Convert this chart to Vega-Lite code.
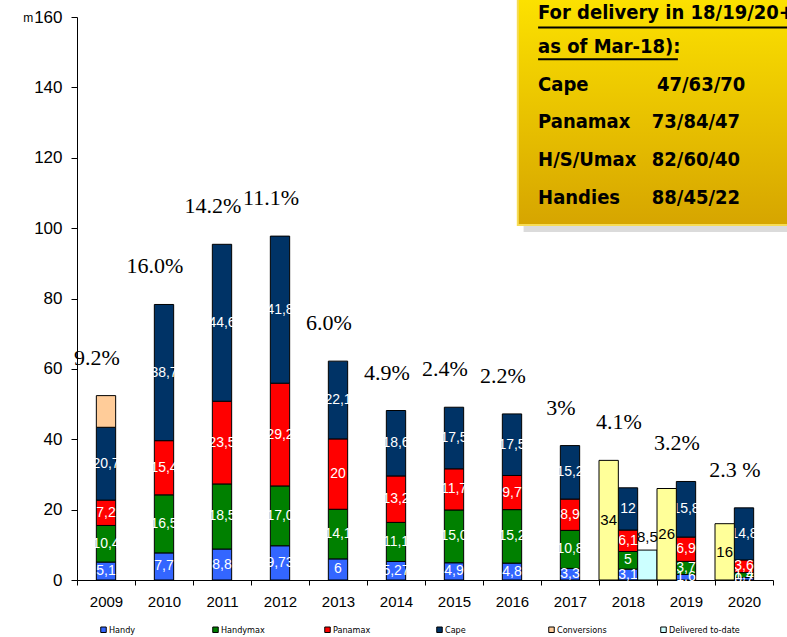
{
  "$schema": "https://vega.github.io/schema/vega-lite/v6.json",
  "width": 696,
  "height": 563,
  "autosize": {"type": "none"},
  "padding": {"left": 77, "top": 17, "right": 14, "bottom": 57},
  "config": {
    "font": "Liberation Sans",
    "view": {"stroke": null},
    "axis": {"grid": false, "domainColor": "black", "tickColor": "black", "labelColor": "black", "labelFont": "Liberation Sans", "domainWidth": 1, "tickWidth": 1},
    "axisX": {"labelFontSize": 15, "tickSize": 5, "labelPadding": 9, "tickBand": "extent", "labelAngle": 0},
    "axisY": {"labelFontSize": 17, "tickSize": 6, "labelPadding": 9, "titleAngle": 0, "titleAnchor": "end", "titleAlign": "right", "titleBaseline": "middle", "titleFontSize": 12, "titleFontWeight": "normal", "titlePadding": 1, "titleFont": "Liberation Sans"}
  },
  "layer": [
    {
      "layer": [
        {
          "data": {"values": [
            {"year": 2009, "group": "fleet", "type": "Handy", "value": 5.1, "label": "5,1"},
            {"year": 2009, "group": "fleet", "type": "Handymax", "value": 10.4, "label": "10,4"},
            {"year": 2009, "group": "fleet", "type": "Panamax", "value": 7.2, "label": "7,2"},
            {"year": 2009, "group": "fleet", "type": "Cape", "value": 20.7, "label": "20,7"},
            {"year": 2009, "group": "fleet", "type": "Conversions", "value": 9.0, "label": ""},
            {"year": 2010, "group": "fleet", "type": "Handy", "value": 7.7, "label": "7,7"},
            {"year": 2010, "group": "fleet", "type": "Handymax", "value": 16.5, "label": "16,5"},
            {"year": 2010, "group": "fleet", "type": "Panamax", "value": 15.4, "label": "15,4"},
            {"year": 2010, "group": "fleet", "type": "Cape", "value": 38.7, "label": "38,7"},
            {"year": 2011, "group": "fleet", "type": "Handy", "value": 8.8, "label": "8,8"},
            {"year": 2011, "group": "fleet", "type": "Handymax", "value": 18.5, "label": "18,5"},
            {"year": 2011, "group": "fleet", "type": "Panamax", "value": 23.5, "label": "23,5"},
            {"year": 2011, "group": "fleet", "type": "Cape", "value": 44.6, "label": "44,6"},
            {"year": 2012, "group": "fleet", "type": "Handy", "value": 9.73, "label": "9,73"},
            {"year": 2012, "group": "fleet", "type": "Handymax", "value": 17.0, "label": "17,0"},
            {"year": 2012, "group": "fleet", "type": "Panamax", "value": 29.2, "label": "29,2"},
            {"year": 2012, "group": "fleet", "type": "Cape", "value": 41.8, "label": "41,8"},
            {"year": 2013, "group": "fleet", "type": "Handy", "value": 6, "label": "6"},
            {"year": 2013, "group": "fleet", "type": "Handymax", "value": 14.1, "label": "14,1"},
            {"year": 2013, "group": "fleet", "type": "Panamax", "value": 20, "label": "20"},
            {"year": 2013, "group": "fleet", "type": "Cape", "value": 22.1, "label": "22,1"},
            {"year": 2014, "group": "fleet", "type": "Handy", "value": 5.27, "label": "5,27"},
            {"year": 2014, "group": "fleet", "type": "Handymax", "value": 11.1, "label": "11,1"},
            {"year": 2014, "group": "fleet", "type": "Panamax", "value": 13.2, "label": "13,2"},
            {"year": 2014, "group": "fleet", "type": "Cape", "value": 18.6, "label": "18,6"},
            {"year": 2015, "group": "fleet", "type": "Handy", "value": 4.9, "label": "4,9"},
            {"year": 2015, "group": "fleet", "type": "Handymax", "value": 15.0, "label": "15,0"},
            {"year": 2015, "group": "fleet", "type": "Panamax", "value": 11.7, "label": "11,7"},
            {"year": 2015, "group": "fleet", "type": "Cape", "value": 17.5, "label": "17,5"},
            {"year": 2016, "group": "fleet", "type": "Handy", "value": 4.8, "label": "4,8"},
            {"year": 2016, "group": "fleet", "type": "Handymax", "value": 15.2, "label": "15,2"},
            {"year": 2016, "group": "fleet", "type": "Panamax", "value": 9.7, "label": "9,7"},
            {"year": 2016, "group": "fleet", "type": "Cape", "value": 17.5, "label": "17,5"},
            {"year": 2017, "group": "fleet", "type": "Handy", "value": 3.3, "label": "3,3"},
            {"year": 2017, "group": "fleet", "type": "Handymax", "value": 10.8, "label": "10,8"},
            {"year": 2017, "group": "fleet", "type": "Panamax", "value": 8.9, "label": "8,9"},
            {"year": 2017, "group": "fleet", "type": "Cape", "value": 15.2, "label": "15,2"},
            {"year": 2018, "group": "orderbook", "type": "Orderbook", "value": 34, "label": "34"},
            {"year": 2018, "group": "fleet", "type": "Handy", "value": 3.1, "label": "3,1"},
            {"year": 2018, "group": "fleet", "type": "Handymax", "value": 5, "label": "5"},
            {"year": 2018, "group": "fleet", "type": "Panamax", "value": 6.1, "label": "6,1"},
            {"year": 2018, "group": "fleet", "type": "Cape", "value": 12, "label": "12"},
            {"year": 2018, "group": "delivered", "type": "Delivered to-date", "value": 8.5, "label": "8,5"},
            {"year": 2019, "group": "orderbook", "type": "Orderbook", "value": 26, "label": "26"},
            {"year": 2019, "group": "fleet", "type": "Handy", "value": 1.6, "label": "1,6"},
            {"year": 2019, "group": "fleet", "type": "Handymax", "value": 3.7, "label": "3,7"},
            {"year": 2019, "group": "fleet", "type": "Panamax", "value": 6.9, "label": "6,9"},
            {"year": 2019, "group": "fleet", "type": "Cape", "value": 15.8, "label": "15,8"},
            {"year": 2020, "group": "orderbook", "type": "Orderbook", "value": 16, "label": "16"},
            {"year": 2020, "group": "fleet", "type": "Handy", "value": 0.7, "label": "0,7"},
            {"year": 2020, "group": "fleet", "type": "Handymax", "value": 1.4, "label": "1,4"},
            {"year": 2020, "group": "fleet", "type": "Panamax", "value": 3.6, "label": "3,6"},
            {"year": 2020, "group": "fleet", "type": "Cape", "value": 14.8, "label": "14,8"}
          ]},
          "transform": [
            {"calculate": "indexof(['Handy','Handymax','Panamax','Cape','Conversions','Orderbook','Delivered to-date'], datum.type)", "as": "ord"},
            {"stack": "value", "groupby": ["year", "group"], "sort": [{"field": "ord", "order": "ascending"}], "as": ["v0", "v1"]},
            {"calculate": "(datum.v0 + datum.v1) / 2", "as": "mid"}
          ],
          "encoding": {
            "x": {"field": "year", "type": "ordinal", "title": null, "scale": {"paddingInner": 0, "paddingOuter": 0}},
            "xOffset": {"field": "group", "type": "nominal", "scale": {"domain": ["orderbook", "fleet", "delivered"], "paddingInner": 0, "paddingOuter": 0}}
          },
          "layer": [
            {
              "transform": [{"filter": "datum.group === 'fleet'"}],
              "mark": {"type": "bar", "stroke": "black", "strokeWidth": 1},
              "encoding": {
                "y": {"field": "v0", "type": "quantitative", "title": "m", "scale": {"domain": [0, 160], "nice": false}, "axis": {"values": [0, 20, 40, 60, 80, 100, 120, 140, 160]}},
                "y2": {"field": "v1"},
                "color": {
                  "field": "type", "type": "nominal",
                  "scale": {
                    "domain": ["Handy", "Handymax", "Panamax", "Cape", "Conversions", "Delivered to-date", "Orderbook"],
                    "range": ["#3366FF", "#008000", "#FF0000", "#003366", "#FFCC99", "#CCFFFF", "#FFFF99"]
                  },
                  "legend": {
                    "values": ["Handy", "Handymax", "Panamax", "Cape", "Conversions", "Delivered to-date"],
                    "title": " ", "titleOrient": "left", "titlePadding": 22, "titleFontSize": 2,
                    "orient": "bottom", "direction": "horizontal", "columns": 6, "gridAlign": "all",
                    "columnPadding": 30, "symbolType": "square", "symbolSize": 30, "symbolStrokeColor": "#222222",
                    "symbolStrokeWidth": 1, "labelFontSize": 9, "labelFont": "Liberation Sans Narrow, DejaVu Sans Condensed, Liberation Sans, sans-serif", "labelOffset": 1, "offset": 16
                  }
                }
              }
            },
            {
              "transform": [{"filter": "datum.group === 'fleet'"}],
              "mark": {"type": "text", "color": "white", "fontSize": 14, "font": "Liberation Sans", "baseline": "middle"},
              "encoding": {
                "y": {"field": "mid", "type": "quantitative", "title": "m"},
                "text": {"field": "label"}
              }
            },
            {
              "transform": [{"filter": "datum.group !== 'fleet'"}],
              "mark": {"type": "bar", "stroke": "black", "strokeWidth": 1},
              "encoding": {
                "y": {"field": "v0", "type": "quantitative", "title": "m"},
                "y2": {"field": "v1"},
                "color": {"field": "type", "type": "nominal"}
              }
            },
            {
              "transform": [{"filter": "datum.type === 'Orderbook'"}],
              "mark": {"type": "text", "color": "black", "fontSize": 15, "font": "Liberation Sans", "baseline": "middle"},
              "encoding": {
                "y": {"field": "mid", "type": "quantitative", "title": "m"},
                "text": {"field": "label"}
              }
            },
            {
              "transform": [{"filter": "datum.type === 'Delivered to-date'"}],
              "mark": {"type": "text", "color": "black", "fontSize": 15, "font": "Liberation Sans", "baseline": "bottom", "dy": -5},
              "encoding": {
                "y": {"field": "v1", "type": "quantitative", "title": "m"},
                "text": {"field": "label"}
              }
            }
          ]
        },
        {
          "data": {"values": [
            {"year": 2009, "pct": "9.2%", "top": 52.4},
            {"year": 2010, "pct": "16.0%", "top": 78.3},
            {"year": 2011, "pct": "14.2%", "top": 95.4},
            {"year": 2012, "pct": "11.1%", "top": 97.73},
            {"year": 2013, "pct": "6.0%", "top": 62.2},
            {"year": 2014, "pct": "4.9%", "top": 48.17},
            {"year": 2015, "pct": "2.4%", "top": 49.1},
            {"year": 2016, "pct": "2.2%", "top": 47.2},
            {"year": 2017, "pct": "3%", "top": 38.2},
            {"year": 2018, "pct": "4.1%", "top": 34},
            {"year": 2019, "pct": "3.2%", "top": 28.0},
            {"year": 2020, "pct": "2.3 %", "top": 20.5}
          ]},
          "mark": {"type": "text", "font": "Liberation Serif", "fontSize": 22, "color": "black", "baseline": "middle", "dy": -38, "dx": -9},
          "encoding": {
            "x": {"field": "year", "type": "ordinal", "title": null, "scale": {"paddingInner": 0, "paddingOuter": 0}},
            "y": {"field": "top", "type": "quantitative", "title": "m"},
            "text": {"field": "pct"}
          }
        }
      ]
    },
    {
      "data": {"values": [{}]},
      "encoding": {
        "x": {"datum": 2016.45, "type": "quantitative", "scale": {"domain": [2008.5, 2020.5], "nice": false, "zero": false}, "axis": null},
        "y": {"datum": 100, "type": "quantitative", "scale": {"domain": [0, 160], "nice": false, "zero": true}, "axis": null}
      },
      "layer": [
        {
          "mark": {"type": "rect", "color": "#888888", "opacity": 0.3},
          "encoding": {"x": {"datum": 2016.2}, "x2": {"datum": 2021.5}, "y": {"datum": 98.9}, "y2": {"datum": 170}}
        },
        {
          "mark": {"type": "rect", "stroke": "#F7DC55", "strokeWidth": 2, "fill": {"gradient": "linear", "x1": 0, "y1": 0, "x2": 0, "y2": 1, "stops": [{"offset": 0, "color": "#FFE600"}, {"offset": 1, "color": "#D6A500"}]}},
          "encoding": {"x": {"datum": 2016.1}, "x2": {"datum": 2021.5}, "y": {"datum": 100.9}, "y2": {"datum": 170}}
        },
        {
          "mark": {"type": "rule", "color": "black", "strokeWidth": 2},
          "encoding": {"x": {"datum": 2016.45}, "x2": {"datum": 2021.5}, "y": {"datum": 157.0}}
        },
        {
          "mark": {"type": "rule", "color": "black", "strokeWidth": 2},
          "encoding": {"x": {"datum": 2016.45}, "x2": {"datum": 2018.86}, "y": {"datum": 148.0}}
        },
        {
          "mark": {"type": "text", "text": "For delivery in 18/19/20+", "font": "Liberation Sans Narrow, DejaVu Sans Condensed, Liberation Sans, sans-serif", "fontWeight": "bold", "fontSize": 20, "align": "left", "baseline": "middle", "color": "black"},
          "encoding": {"x": {"datum": 2016.45}, "y": {"datum": 161.1}}
        },
        {
          "mark": {"type": "text", "text": "as of Mar-18):", "font": "Liberation Sans Narrow, DejaVu Sans Condensed, Liberation Sans, sans-serif", "fontWeight": "bold", "fontSize": 20, "align": "left", "baseline": "middle", "color": "black"},
          "encoding": {"x": {"datum": 2016.45}, "y": {"datum": 151.5}}
        },
        {
          "mark": {"type": "text", "text": "Cape", "font": "Liberation Sans Narrow, DejaVu Sans Condensed, Liberation Sans, sans-serif", "fontWeight": "bold", "fontSize": 20, "align": "left", "baseline": "middle", "color": "black"},
          "encoding": {"x": {"datum": 2016.45}, "y": {"datum": 140.7}}
        },
        {
          "mark": {"type": "text", "text": "47/63/70", "font": "Liberation Sans Narrow, DejaVu Sans Condensed, Liberation Sans, sans-serif", "fontWeight": "bold", "fontSize": 20, "align": "left", "baseline": "middle", "color": "black"},
          "encoding": {"x": {"datum": 2018.5}, "y": {"datum": 140.7}}
        },
        {
          "mark": {"type": "text", "text": "Panamax", "font": "Liberation Sans Narrow, DejaVu Sans Condensed, Liberation Sans, sans-serif", "fontWeight": "bold", "fontSize": 20, "align": "left", "baseline": "middle", "color": "black"},
          "encoding": {"x": {"datum": 2016.45}, "y": {"datum": 130.2}}
        },
        {
          "mark": {"type": "text", "text": "73/84/47", "font": "Liberation Sans Narrow, DejaVu Sans Condensed, Liberation Sans, sans-serif", "fontWeight": "bold", "fontSize": 20, "align": "left", "baseline": "middle", "color": "black"},
          "encoding": {"x": {"datum": 2018.41}, "y": {"datum": 130.2}}
        },
        {
          "mark": {"type": "text", "text": "H/S/Umax", "font": "Liberation Sans Narrow, DejaVu Sans Condensed, Liberation Sans, sans-serif", "fontWeight": "bold", "fontSize": 20, "align": "left", "baseline": "middle", "color": "black"},
          "encoding": {"x": {"datum": 2016.45}, "y": {"datum": 119.4}}
        },
        {
          "mark": {"type": "text", "text": "82/60/40", "font": "Liberation Sans Narrow, DejaVu Sans Condensed, Liberation Sans, sans-serif", "fontWeight": "bold", "fontSize": 20, "align": "left", "baseline": "middle", "color": "black"},
          "encoding": {"x": {"datum": 2018.41}, "y": {"datum": 119.4}}
        },
        {
          "mark": {"type": "text", "text": "Handies", "font": "Liberation Sans Narrow, DejaVu Sans Condensed, Liberation Sans, sans-serif", "fontWeight": "bold", "fontSize": 20, "align": "left", "baseline": "middle", "color": "black"},
          "encoding": {"x": {"datum": 2016.45}, "y": {"datum": 108.6}}
        },
        {
          "mark": {"type": "text", "text": "88/45/22", "font": "Liberation Sans Narrow, DejaVu Sans Condensed, Liberation Sans, sans-serif", "fontWeight": "bold", "fontSize": 20, "align": "left", "baseline": "middle", "color": "black"},
          "encoding": {"x": {"datum": 2018.41}, "y": {"datum": 108.6}}
        }
      ]
    }
  ],
  "resolve": {"scale": {"x": "independent", "y": "independent"}}
}
